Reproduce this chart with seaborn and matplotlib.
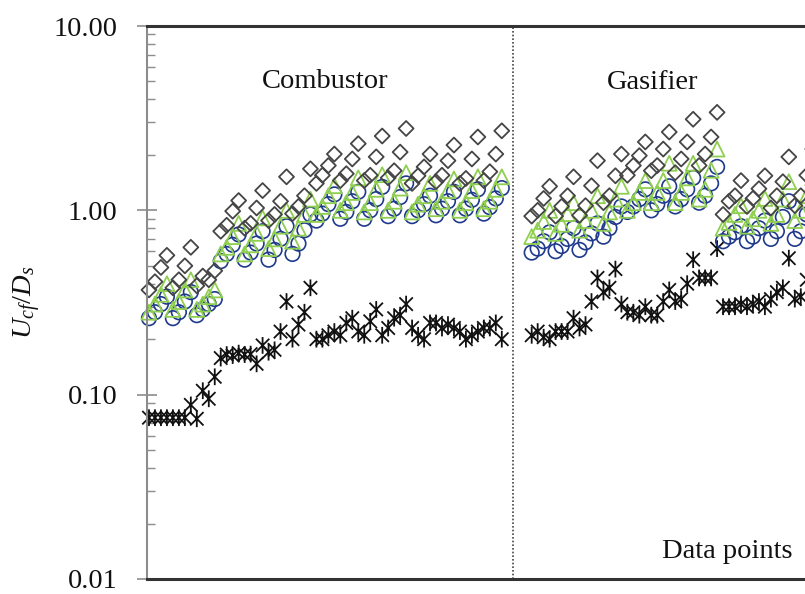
import numpy as np
import pandas as pd
import matplotlib
matplotlib.use("Agg")
import matplotlib.pyplot as plt
from matplotlib.path import Path
from matplotlib.ticker import LogLocator, NullFormatter
import seaborn as sns

# ---- values of U_cf / D_s, runs of four points each ----
combustor_diamond = [
    0.37, 0.41, 0.49, 0.57, 0.38, 0.42, 0.50, 0.63, 0.39, 0.44, 0.42, 0.47,
    0.77, 0.83, 0.99, 1.13, 0.80, 0.85, 1.03, 1.28, 0.88, 0.95, 1.12, 1.52,
    0.96, 1.05, 1.20, 1.68, 1.40, 1.55, 1.75, 2.02, 1.45, 1.58, 1.90, 2.30,
    1.45, 1.55, 1.95, 2.53, 1.50, 1.64, 2.07, 2.78, 1.40, 1.54, 1.72, 2.02,
    1.43, 1.55, 1.86, 2.26, 1.40, 1.49, 1.90, 2.50, 1.45, 1.62, 2.02, 2.70]
combustor_triangle = [
    0.28, 0.31, 0.35, 0.40, 0.29, 0.32, 0.37, 0.42, 0.29, 0.31, 0.34, 0.37,
    0.58, 0.63, 0.72, 0.85, 0.58, 0.65, 0.75, 0.91, 0.62, 0.70, 0.82, 1.00,
    0.68, 0.80, 0.95, 1.15, 0.95, 1.05, 1.20, 1.36, 1.00, 1.10, 1.25, 1.50,
    0.98, 1.10, 1.30, 1.56, 1.00, 1.12, 1.32, 1.60, 0.98, 1.08, 1.20, 1.40,
    1.02, 1.12, 1.28, 1.48, 1.00, 1.10, 1.28, 1.52, 1.02, 1.12, 1.30, 1.52]
combustor_circle = [
    0.26, 0.28, 0.31, 0.34, 0.26, 0.28, 0.32, 0.36, 0.27, 0.29, 0.31, 0.33,
    0.53, 0.58, 0.65, 0.74, 0.54, 0.59, 0.66, 0.77, 0.54, 0.61, 0.70, 0.82,
    0.58, 0.66, 0.78, 0.95, 0.88, 0.96, 1.08, 1.22, 0.90, 0.98, 1.12, 1.26,
    0.90, 1.00, 1.15, 1.34, 0.93, 1.02, 1.18, 1.40, 0.93, 1.00, 1.08, 1.20,
    0.94, 1.02, 1.12, 1.26, 0.94, 1.02, 1.14, 1.30, 0.96, 1.04, 1.16, 1.32]
combustor_star = [
    0.075, 0.075, 0.075, 0.075, 0.075, 0.075, 0.075, 0.088, 0.074, 0.105, 0.095, 0.125,
    0.158, 0.165, 0.163, 0.168, 0.165, 0.166, 0.147, 0.185, 0.170, 0.175, 0.220, 0.320,
    0.200, 0.240, 0.280, 0.380, 0.200, 0.200, 0.210, 0.220, 0.210, 0.245, 0.260, 0.220,
    0.210, 0.250, 0.290, 0.210, 0.230, 0.260, 0.270, 0.310, 0.230, 0.210, 0.200, 0.245,
    0.245, 0.230, 0.240, 0.230, 0.220, 0.200, 0.210, 0.220, 0.230, 0.230, 0.245, 0.200]

gasifier_diamond = [
    0.93, 1.00, 1.16, 1.35, 0.93, 1.05, 1.20, 1.52, 0.94, 1.06, 1.36, 1.86,
    1.10, 1.20, 1.54, 2.02, 1.55, 1.75, 1.98, 2.35, 1.64, 1.75, 2.15, 2.66,
    1.60, 1.90, 2.35, 3.12, 1.75, 2.02, 2.50, 3.40, 0.95, 1.12, 1.20, 1.45,
    1.05, 1.16, 1.31, 1.54, 1.03, 1.20, 1.43, 1.95, 1.06, 1.20, 1.55, 2.15]
gasifier_triangle = [
    0.72, 0.78, 0.87, 1.00, 0.75, 0.84, 0.96, 1.10, 0.78, 0.88, 1.00, 1.20,
    0.85, 0.98, 1.15, 1.35, 1.00, 1.10, 1.25, 1.45, 1.10, 1.25, 1.45, 1.80,
    1.10, 1.25, 1.50, 1.80, 1.15, 1.30, 1.65, 2.15, 0.80, 0.86, 0.95, 1.06,
    0.82, 0.90, 1.00, 1.16, 0.85, 0.95, 1.15, 1.43, 0.88, 1.00, 1.20, 1.50]
gasifier_circle = [
    0.59, 0.62, 0.68, 0.76, 0.60, 0.64, 0.70, 0.80, 0.61, 0.67, 0.75, 0.85,
    0.72, 0.80, 0.92, 1.05, 0.98, 1.05, 1.15, 1.30, 1.00, 1.08, 1.20, 1.35,
    1.05, 1.15, 1.30, 1.50, 1.10, 1.20, 1.40, 1.72, 0.68, 0.72, 0.76, 0.82,
    0.68, 0.72, 0.80, 0.88, 0.70, 0.77, 0.92, 1.12, 0.70, 0.77, 0.95, 1.15]
gasifier_star = [
    0.210, 0.220, 0.205, 0.200, 0.220, 0.220, 0.220, 0.260, 0.230, 0.240, 0.320, 0.430,
    0.360, 0.380, 0.480, 0.310, 0.280, 0.280, 0.270, 0.300, 0.270, 0.270, 0.320, 0.370,
    0.320, 0.330, 0.400, 0.540, 0.430, 0.430, 0.430, 0.620, 0.300, 0.300, 0.300, 0.310,
    0.300, 0.310, 0.320, 0.300, 0.330, 0.360, 0.380, 0.550, 0.330, 0.340, 0.420, 0.350]

section_names = ["Combustor", "Gasifier"]
x_axis_label = "Data points"
y_axis_label = r"$U_{cf}/D_s$"
y_ticks = [0.01, 0.1, 1.0, 10.0]
y_tick_labels = ["0.01", "0.10", "1.00", "10.00"]

# ---- long-form table ----
combustor_pos = np.arange(len(combustor_star))
gasifier_pos = np.arange(len(gasifier_star)) + len(combustor_star) + 4
series = {
    "diamond": (combustor_diamond, gasifier_diamond),
    "triangle": (combustor_triangle, gasifier_triangle),
    "circle": (combustor_circle, gasifier_circle),
    "star": (combustor_star, gasifier_star),
}
rows = []
for name, (comb, gas) in series.items():
    for p, v in zip(combustor_pos, comb):
        rows.append((p, v, name, section_names[0]))
    for p, v in zip(gasifier_pos, gas):
        rows.append((p, v, name, section_names[1]))
df = pd.DataFrame(rows, columns=["point", "value", "series", "section"])

# ---- style ----
sns.set_style("white")
plt.rcParams["font.family"] = ["Liberation Serif", "DejaVu Serif"]
plt.rcParams["mathtext.fontset"] = "custom"
plt.rcParams["mathtext.rm"] = "Liberation Serif"
plt.rcParams["mathtext.it"] = "Liberation Serif:italic"

FS = 20.5
star_path = Path(
    [(0, -1), (0, 1), (-0.8, -0.8), (0.8, 0.8), (-0.8, 0.8), (0.8, -0.8)],
    [Path.MOVETO, Path.LINETO, Path.MOVETO, Path.LINETO, Path.MOVETO, Path.LINETO],
)
marker_styles = {
    "star": (star_path, "#111111", 145, 1.3),
    "circle": ("o", "#1f3a8c", 110, 1.2),
    "triangle": ("^", "#8fcf50", 115, 1.3),
    "diamond": ("D", "#454545", 58, 1.3),
}

fig = plt.figure(figsize=(8.05, 5.94), dpi=100)
ax = fig.add_axes([147 / 805, 15 / 594, 745.7 / 805, 553 / 594])

for name in ["star", "circle", "triangle", "diamond"]:
    marker, color, size, lw = marker_styles[name]
    sub = df[df["series"] == name]
    sns.scatterplot(data=sub, x="point", y="value", marker=marker, s=size,
                    color=color, linewidth=lw, ax=ax, legend=False, clip_on=False)
    coll = ax.collections[-1]
    coll.set_facecolor("none")
    coll.set_edgecolor(color)
    coll.set_linewidth(lw)

ax.set_yscale("log")
ax.set_ylim(0.01, 10)
ax.set_xlim(-0.33, -0.33 + 745.7 / 5.98)

# divider between the two sections
divider = (combustor_pos[-1] + gasifier_pos[0]) / 2 - 0.6
ax.axvline(divider, color="#444444", linestyle=(0, (1, 1.2)), linewidth=1.2)

ax.set_yticks(y_ticks)
ax.set_yticklabels(y_tick_labels, fontsize=FS, color="#111111")
ax.yaxis.set_minor_locator(LogLocator(base=10, subs=np.arange(2, 10)))
ax.yaxis.set_minor_formatter(NullFormatter())
ax.tick_params(axis="y", which="major", direction="inout", length=15, width=1.2,
               color="#8c8c8c", pad=14, left=True)
ax.tick_params(axis="y", which="minor", direction="in", length=6, width=1.0,
               color="#8c8c8c", left=True)
ax.tick_params(axis="x", bottom=False, labelbottom=False)

for side in ["top", "bottom"]:
    ax.spines[side].set_color("#333333")
    ax.spines[side].set_linewidth(2.2)
ax.spines["left"].set_color("#8c8c8c")
ax.spines["left"].set_linewidth(1.5)
ax.spines["right"].set_visible(False)

ax.set_xlabel("")
ax.set_ylabel(y_axis_label, fontsize=FS, color="#111111")
ax.yaxis.set_label_coords(-0.14, 0.5)

ax.text(0.2387, 0.899, section_names[0], transform=ax.transAxes, fontsize=FS,
        ha="center", va="center", color="#111111")
ax.text(0.6786, 0.897, section_names[1], transform=ax.transAxes, fontsize=FS,
        ha="center", va="center", color="#111111")
ax.text(0.778, 0.049, x_axis_label, transform=ax.transAxes, fontsize=FS,
        ha="center", va="center", color="#111111")

fig.savefig("out.png", dpi=100)
